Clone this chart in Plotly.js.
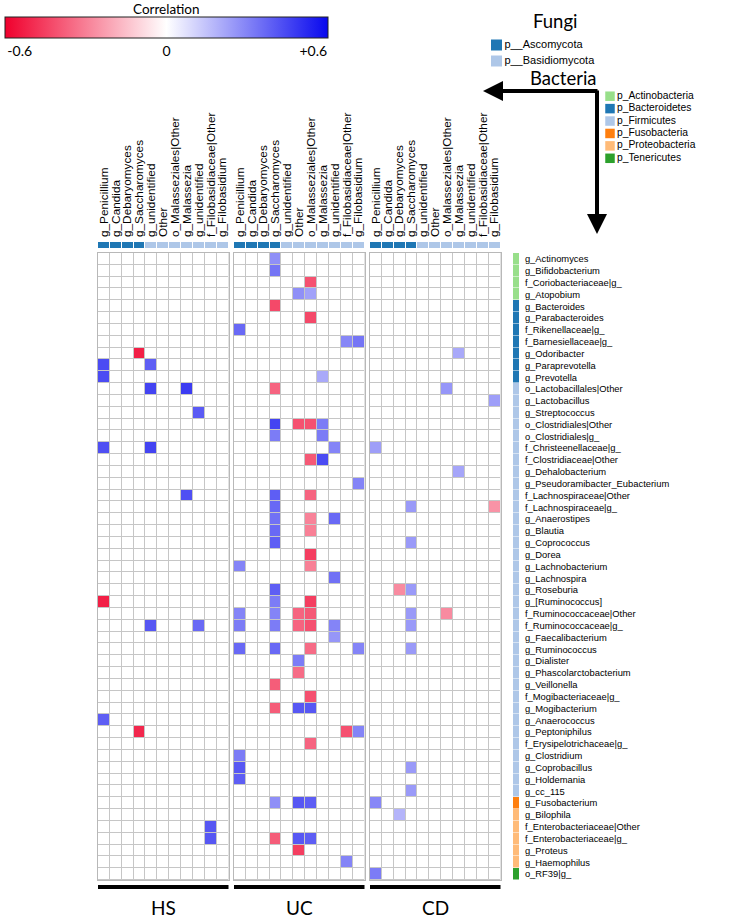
<!DOCTYPE html>
<html><head><meta charset="utf-8">
<script src="https://cdn.plot.ly/plotly-3.0.1.min.js"></script>
<style>html,body{margin:0;padding:0;background:#fff}#chart{width:741px;height:922px}</style>
</head><body><div id="chart"></div>
<script>
// ---------- DATA ----------
const bacteria = [
 'g_Actinomyces','g_Bifidobacterium','f_Coriobacteriaceae|g_','g_Atopobium',
 'g_Bacteroides','g_Parabacteroides','f_Rikenellaceae|g_','f_Barnesiellaceae|g_','g_Odoribacter','g_Paraprevotella','g_Prevotella',
 'o_Lactobacillales|Other','g_Lactobacillus','g_Streptococcus','o_Clostridiales|Other','o_Clostridiales|g_','f_Christeenellaceae|g_',
 'f_Clostridiaceae|Other','g_Dehalobacterium','g_Pseudoramibacter_Eubacterium','f_Lachnospiraceae|Other','f_Lachnospiraceae|g_',
 'g_Anaerostipes','g_Blautia','g_Coprococcus','g_Dorea','g_Lachnobacterium','g_Lachnospira','g_Roseburia','g_[Ruminococcus]',
 'f_Ruminococcaceae|Other','f_Ruminococcaceae|g_','g_Faecalibacterium','g_Ruminococcus','g_Dialister','g_Phascolarctobacterium',
 'g_Veillonella','f_Mogibacteriaceae|g_','g_Mogibacterium','g_Anaerococcus','g_Peptoniphilus','f_Erysipelotrichaceae|g_',
 'g_Clostridium','g_Coprobacillus','g_Holdemania','g_cc_115',
 'g_Fusobacterium',
 'g_Bilophila','f_Enterobacteriaceae|Other','f_Enterobacteriaceae|g_','g_Proteus','g_Haemophilus',
 'o_RF39|g_'
];
const bacteriaPhyla = ['p_Actinobacteria','p_Bacteroidetes','p_Firmicutes','p_Fusobacteria','p_Proteobacteria','p_Tenericutes'];
const bacteriaPhylaColors = ['#98df8a','#1f77b4','#aec7e8','#ff7f0e','#ffbb78','#2ca02c'];
const bacteriaPhylaCounts = [4,7,35,1,5,1];

const fungi = ['g_Penicillium','g_Candida','g_Debaryomyces','g_Saccharomyces','g_unidentified','Other',
 'o_Malasseziales|Other','g_Malassezia','g_unidentified','f_Filobasidiaceae|Other','g_Filobasidium'];
const fungiPhyla = ['p__Ascomycota','p__Basidiomycota'];
const fungiPhylaColors = ['#1f77b4','#aec7e8'];
const fungiPhylaCounts = [4,7];

const panelNames = ['HS','UC','CD'];
const colorbarTitle = 'Correlation';
const colorbarTicks = [-0.6, 0, 0.6];
const colorbarTickText = ['-0.6', '0', '+0.6'];

// [bacterium, fungus column index, correlation]
const HS = [
 ['g_Odoribacter',3,-0.58],
 ['g_Paraprevotella',0,0.48],['g_Paraprevotella',4,0.43],
 ['g_Prevotella',0,0.48],
 ['o_Lactobacillales|Other',4,0.5],['o_Lactobacillales|Other',7,0.52],
 ['g_Streptococcus',8,0.44],
 ['f_Christeenellaceae|g_',0,0.47],['f_Christeenellaceae|g_',4,0.5],
 ['f_Lachnospiraceae|Other',7,0.47],
 ['g_[Ruminococcus]',0,-0.58],
 ['f_Ruminococcaceae|g_',4,0.45],['f_Ruminococcaceae|g_',8,0.4],
 ['g_Anaerococcus',0,0.43],
 ['g_Peptoniphilus',3,-0.56],
 ['f_Enterobacteriaceae|Other',9,0.45],['f_Enterobacteriaceae|g_',9,0.45]
];
const UC = [
 ['g_Actinomyces',3,0.3],
 ['g_Bifidobacterium',3,0.37],
 ['f_Coriobacteriaceae|g_',6,-0.45],
 ['g_Atopobium',5,0.3],['g_Atopobium',6,0.25],
 ['g_Bacteroides',3,-0.47],
 ['g_Parabacteroides',6,-0.47],
 ['f_Rikenellaceae|g_',0,0.4],
 ['f_Barnesiellaceae|g_',9,0.32],['f_Barnesiellaceae|g_',10,0.37],
 ['g_Prevotella',7,0.23],
 ['o_Lactobacillales|Other',3,-0.4],
 ['o_Clostridiales|Other',3,0.5],['o_Clostridiales|Other',5,-0.45],['o_Clostridiales|Other',6,-0.45],['o_Clostridiales|Other',7,0.35],
 ['o_Clostridiales|g_',3,0.35],['o_Clostridiales|g_',7,0.35],
 ['f_Christeenellaceae|g_',8,0.33],
 ['f_Clostridiaceae|Other',6,-0.43],['f_Clostridiaceae|Other',7,0.48],
 ['g_Pseudoramibacter_Eubacterium',10,0.33],
 ['f_Lachnospiraceae|Other',3,0.43],['f_Lachnospiraceae|Other',6,-0.4],
 ['f_Lachnospiraceae|g_',3,0.4],
 ['g_Anaerostipes',3,0.38],['g_Anaerostipes',6,-0.32],['g_Anaerostipes',8,0.4],
 ['g_Blautia',3,0.4],['g_Blautia',6,-0.33],
 ['g_Coprococcus',3,0.43],
 ['g_Dorea',6,-0.5],
 ['g_Lachnobacterium',0,0.33],['g_Lachnobacterium',6,-0.33],
 ['g_Lachnospira',8,0.38],
 ['g_Roseburia',3,0.43],
 ['g_[Ruminococcus]',3,0.35],['g_[Ruminococcus]',6,-0.5],
 ['f_Ruminococcaceae|Other',0,0.33],['f_Ruminococcaceae|Other',3,0.33],['f_Ruminococcaceae|Other',5,-0.4],['f_Ruminococcaceae|Other',6,-0.43],
 ['f_Ruminococcaceae|g_',0,0.35],['f_Ruminococcaceae|g_',3,0.35],['f_Ruminococcaceae|g_',5,-0.4],['f_Ruminococcaceae|g_',6,-0.45],['f_Ruminococcaceae|g_',8,0.33],
 ['g_Faecalibacterium',8,0.28],
 ['g_Ruminococcus',0,0.4],['g_Ruminococcus',3,0.4],['g_Ruminococcus',6,-0.38],['g_Ruminococcus',10,0.33],
 ['g_Dialister',5,0.35],
 ['g_Phascolarctobacterium',5,-0.38],
 ['g_Veillonella',3,-0.42],
 ['f_Mogibacteriaceae|g_',6,-0.45],
 ['g_Mogibacterium',3,-0.42],['g_Mogibacterium',5,0.45],['g_Mogibacterium',6,0.45],
 ['g_Peptoniphilus',9,-0.45],['g_Peptoniphilus',10,0.33],
 ['f_Erysipelotrichaceae|g_',6,-0.4],
 ['g_Clostridium',0,0.35],
 ['g_Coprobacillus',0,0.45],
 ['g_Holdemania',0,0.43],
 ['g_Fusobacterium',3,0.3],['g_Fusobacterium',5,0.45],['g_Fusobacterium',6,0.43],
 ['f_Enterobacteriaceae|g_',3,-0.42],['f_Enterobacteriaceae|g_',5,0.45],['f_Enterobacteriaceae|g_',6,0.43],
 ['g_Proteus',5,-0.5],
 ['g_Haemophilus',9,0.33]
];
const CD = [
 ['g_Odoribacter',7,0.23],
 ['o_Lactobacillales|Other',6,0.28],
 ['g_Lactobacillus',10,0.26],
 ['f_Christeenellaceae|g_',0,0.26],
 ['g_Dehalobacterium',7,0.24],
 ['f_Lachnospiraceae|g_',3,0.27],['f_Lachnospiraceae|g_',10,-0.28],
 ['g_Coprococcus',3,0.27],
 ['g_Roseburia',2,-0.3],['g_Roseburia',3,0.27],
 ['f_Ruminococcaceae|Other',3,0.27],['f_Ruminococcaceae|Other',6,-0.3],
 ['f_Ruminococcaceae|g_',3,0.27],
 ['g_Ruminococcus',3,0.27],
 ['g_Coprobacillus',3,0.27],
 ['g_cc_115',3,0.27],
 ['g_Fusobacterium',0,0.32],
 ['g_Bilophila',2,0.2],
 ['o_RF39|g_',0,0.35]
];
const panels = [HS, UC, CD];

// ---------- LAYOUT HELPERS ----------
const W = 741, H = 922;
const fx = p => p / W, fy = p => 1 - p / H;
const nR = bacteria.length, nC = fungi.length;
const rowIdx = bacteria.map((_, i) => i);
const colIdx = fungi.map((_, i) => i);
const LABEL_FONT = 'Liberation Sans, Arial, sans-serif';
const TITLE_FONT = 'Lato, Liberation Sans, sans-serif';
const GRID = '#c6c6c6';
const corrScale = [[0, 'rgb(240,0,45)'], [0.5, '#ffffff'], [1, 'rgb(8,8,238)']];

const panelX = [[98, 228.5], [234, 364.5], [370, 500.5]];
const gridY = [253, 880];
const stripY = [242, 248];
const phylumX = [513, 519];

function expand(counts) { const out = []; counts.forEach((n, k) => { for (let i = 0; i < n; i++) out.push(k); }); return out; }
function discreteScale(colors) {
  const n = colors.length, s = [];
  colors.forEach((c, k) => { s.push([k / n, c]); s.push([(k + 1) / n, c]); });
  return s;
}
function toMatrix(list) {
  const z = bacteria.map(() => fungi.map(() => 0));
  list.forEach(([r, c, v]) => { const i = bacteria.indexOf(r); if (i >= 0) z[i][c] = v; });
  return z;
}

const bactGroup = expand(bacteriaPhylaCounts);
const fungGroup = expand(fungiPhylaCounts);

const traces = [];
const layout = {
  width: W, height: H, margin: {l: 0, r: 0, t: 0, b: 0},
  paper_bgcolor: '#fff', plot_bgcolor: '#fff', showlegend: false,
  font: {family: LABEL_FONT, color: '#000'},
  annotations: [], shapes: []
};

panels.forEach((list, k) => {
  const xa = k === 0 ? 'x' : 'x' + (k + 1);
  const ya = 'y' + (k + 2);
  const xs = 'x' + (k + 5);
  traces.push({type: 'heatmap', x: colIdx, y: rowIdx, z: bacteria.map(() => fungi.map(() => 1)),
    colorscale: [[0, GRID], [1, GRID]], showscale: false, hoverinfo: 'skip', xaxis: xa, yaxis: ya});
  const t = {type: 'heatmap', x: colIdx, y: rowIdx, z: toMatrix(list), zmin: -0.66, zmax: 0.66,
    colorscale: corrScale, xgap: 1, ygap: 1, showscale: k === 0, hoverinfo: 'skip', xaxis: xa, yaxis: ya};
  if (k === 0) {
    t.colorbar = {orientation: 'h', lenmode: 'pixels', len: 323, thickness: 21,
      x: fx(166.5), xanchor: 'center', y: fy(17), yanchor: 'top', xpad: 0, ypad: 0,
      outlinewidth: 1, outlinecolor: '#222',
      tickvals: colorbarTicks, ticktext: colorbarTickText, ticks: '',
      tickfont: {family: TITLE_FONT, size: 14}};
  }
  traces.push(t);
  traces.push({type: 'heatmap', x: colIdx, y: [0], z: [fungGroup], zmin: 0, zmax: fungiPhyla.length,
    colorscale: discreteScale(fungiPhylaColors), showscale: false, xgap: 1,
    hoverinfo: 'skip', xaxis: xs, yaxis: 'y5'});

  layout[k === 0 ? 'xaxis' : 'xaxis' + (k + 1)] = {domain: [fx(panelX[k][0]), fx(panelX[k][1])], range: [-0.5, nC - 0.5], anchor: ya,
    showline: true, mirror: true, linecolor: '#b8b8b8', linewidth: 1, showticklabels: false,
    ticks: '', showgrid: false, zeroline: false, fixedrange: true};
  layout['yaxis' + (k + 2)] = {domain: [fy(gridY[1]), fy(gridY[0])], range: [nR - 0.5, -0.5], anchor: xa,
    showline: true, mirror: true, linecolor: '#b8b8b8', linewidth: 1, showticklabels: false,
    ticks: '', showgrid: false, zeroline: false, fixedrange: true};
  layout['xaxis' + (k + 5)] = {domain: [fx(panelX[k][0]), fx(panelX[k][1])], range: [-0.5, nC - 0.5], anchor: 'y5',
    side: 'top', tickmode: 'array', tickvals: colIdx, ticktext: fungi, tickangle: -90, ticks: '',
    ticklabelstandoff: 4,
    tickfont: {family: LABEL_FONT, size: 11.8}, showgrid: false, zeroline: false, showline: false, fixedrange: true};
  layout.shapes.push({type: 'rect', xref: xa + ' domain', yref: 'paper', x0: 0, x1: 1,
    y0: fy(889), y1: fy(885), fillcolor: '#000', line: {width: 0}});
  layout.annotations.push({xref: xa + ' domain', yref: 'paper', x: 0.5, y: fy(907), text: panelNames[k],
    showarrow: false, font: {family: TITLE_FONT, size: 19}, xanchor: 'center', yanchor: 'middle'});
});

traces.push({type: 'heatmap', x: [0], y: rowIdx, z: bactGroup.map(g => [g]), zmin: 0, zmax: bacteriaPhyla.length,
  colorscale: discreteScale(bacteriaPhylaColors), showscale: false, ygap: 0.5, hoverinfo: 'skip', xaxis: 'x4', yaxis: 'y'});
layout.xaxis4 = {domain: [fx(phylumX[0]), fx(phylumX[1])], range: [-0.5, 0.5], anchor: 'y',
  showticklabels: false, ticks: '', showgrid: false, zeroline: false, showline: false, fixedrange: true};
layout.yaxis = {domain: [fy(gridY[1]), fy(gridY[0])], range: [nR - 0.5, -0.5], anchor: 'x4', side: 'right',
  tickmode: 'array', tickvals: rowIdx, ticktext: bacteria, ticks: 'outside', ticklen: 3, tickcolor: 'rgba(0,0,0,0)',
  tickfont: {family: LABEL_FONT, size: 9.4}, showgrid: false, zeroline: false, showline: false, fixedrange: true};
layout.yaxis5 = {domain: [fy(stripY[1]), fy(stripY[0])], range: [-0.5, 0.5], anchor: 'x5',
  visible: false, fixedrange: true};

traces.push({type: 'scatter', mode: 'markers+text', x: fungiPhyla.map(() => 0), y: fungiPhyla.map((_, i) => i),
  text: fungiPhyla, textposition: 'middle right', cliponaxis: false, hoverinfo: 'skip',
  marker: {symbol: 'square', size: 11, color: fungiPhylaColors}, textfont: {family: LABEL_FONT, size: 11},
  xaxis: 'x8', yaxis: 'y8'});
layout.xaxis8 = {domain: [fx(491), fx(741)], range: [-5.5, 244.5], anchor: 'y8', visible: false, fixedrange: true};
layout.yaxis8 = {domain: [fy(69), fy(37)], range: [fungiPhyla.length - 0.5, -0.5], anchor: 'x8', visible: false, fixedrange: true};

traces.push({type: 'scatter', mode: 'markers+text', x: bacteriaPhyla.map(() => 0), y: bacteriaPhyla.map((_, i) => i),
  text: bacteriaPhyla, textposition: 'middle right', cliponaxis: false, hoverinfo: 'skip',
  marker: {symbol: 'square', size: 9.5, color: bacteriaPhylaColors}, textfont: {family: LABEL_FONT, size: 10.3},
  xaxis: 'x9', yaxis: 'y9'});
layout.xaxis9 = {domain: [fx(605), fx(741)], range: [-5, 131], anchor: 'y9', visible: false, fixedrange: true};
layout.yaxis9 = {domain: [fy(164.5), fy(90)], range: [bacteriaPhyla.length - 0.5, -0.5], anchor: 'x9', visible: false, fixedrange: true};

layout.annotations.push(
  {xref: 'paper', yref: 'paper', x: fx(166.5), y: 1, text: colorbarTitle, showarrow: false,
   font: {family: TITLE_FONT, size: 13.5}, xanchor: 'center', yanchor: 'top', borderpad: 0},
  {xref: 'paper', yref: 'paper', x: fx(555), y: fy(21), text: 'Fungi', showarrow: false,
   font: {family: TITLE_FONT, size: 18.5}, xanchor: 'center', yanchor: 'middle'},
  {xref: 'paper', yref: 'paper', x: fx(563), y: fy(78), text: 'Bacteria', showarrow: false,
   font: {family: TITLE_FONT, size: 18.5}, xanchor: 'center', yanchor: 'middle'},
  {xref: 'paper', yref: 'paper', x: fx(483), y: fy(91), ax: 116, ay: 0, text: '', showarrow: true,
   arrowhead: 2, arrowsize: 1, arrowwidth: 4, arrowcolor: '#000'},
  {xref: 'paper', yref: 'paper', x: fx(597), y: fy(234), ax: 0, ay: -145, text: '', showarrow: true,
   arrowhead: 2, arrowsize: 1, arrowwidth: 4, arrowcolor: '#000'}
);

Plotly.newPlot('chart', traces, layout, {staticPlot: true, displayModeBar: false});
</script>
</body></html>
